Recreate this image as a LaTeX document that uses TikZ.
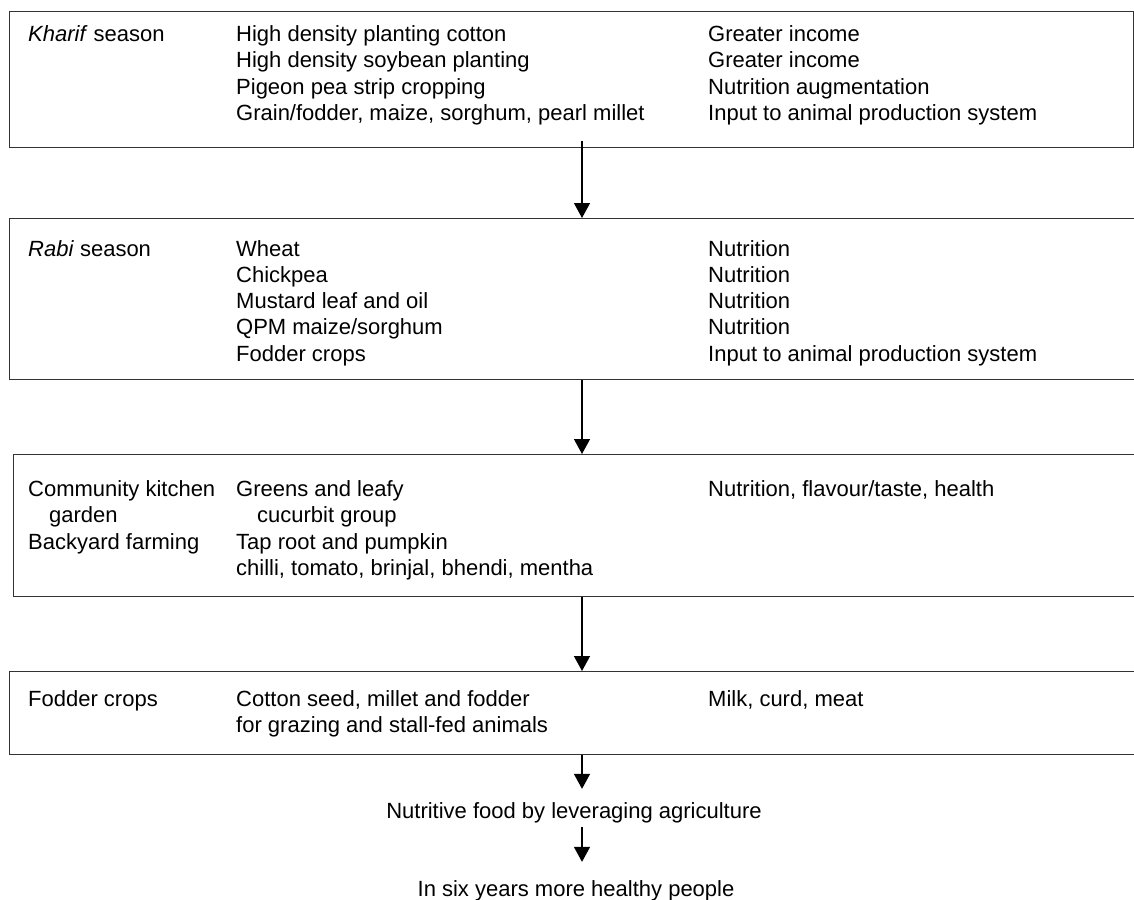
\documentclass[tikz,border=0pt]{standalone}
\usepackage{fontspec}
\setmainfont{Liberation Sans}
\usetikzlibrary{arrows.meta}
\newcommand\colx[1]{\begin{tabular}[t]{@{}l@{}}#1\end{tabular}}
\begin{document}
\begin{tikzpicture}[x=1pt,y=-1pt,
  boxst/.style={draw=black!80, line width=1.3pt, inner sep=0pt, anchor=north west},
  txt/.style={inner sep=0pt, anchor=base west, font=\fontsize{22}{26.3}\selectfont},
  ctxt/.style={inner sep=0pt, anchor=base, font=\fontsize{22}{26.3}\selectfont},
  arr/.style={line width=1.3pt, -{Triangle[width=16pt,length=15pt]}}]
\useasboundingbox (0,0) rectangle (1134,899);
\clip (0,0) rectangle (1134,899);
\coordinate (ax) at (582,0);
% boxes
\node[boxst, minimum width=1124pt, minimum height=136pt] (b1) at (9,11) {};
\node[boxst, minimum width=1140pt, minimum height=161pt] (b2) at (9,218) {};
\node[boxst, minimum width=1140pt, minimum height=142pt] (b3) at (13,454) {};
\node[boxst, minimum width=1140pt, minimum height=83pt] (b4) at (9,671) {};
% box 1
\node[txt] (k1) at (28,41.5) {\colx{\textit{Kharif} season}};
\node[txt] (k2) at (236,41.5) {\colx{High density planting cotton\\High density soybean planting\\Pigeon pea strip cropping\\Grain/fodder, maize, sorghum, pearl millet}};
\node[txt] (k3) at (708,41.5) {\colx{Greater income\\Greater income\\Nutrition augmentation\\Input to animal production system}};
% box 2
\node[txt] (r1) at (28,256) {\colx{\textit{Rabi} season}};
\node[txt] (r2) at (236,256) {\colx{Wheat\\Chickpea\\Mustard leaf and oil\\QPM maize/sorghum\\Fodder crops}};
\node[txt] (r3) at (708,256) {\colx{Nutrition\\Nutrition\\Nutrition\\Nutrition\\Input to animal production system}};
% box 3
\node[txt] (c1) at (28,496.5) {\colx{Community kitchen\\\hspace*{21pt}garden\\Backyard farming}};
\node[txt] (c2) at (236,496.5) {\colx{Greens and leafy\\\hspace*{21pt}cucurbit group\\Tap root and pumpkin\\chilli, tomato, brinjal, bhendi, mentha}};
\node[txt] (c3) at (708,496.5) {\colx{Nutrition, flavour/taste, health}};
% box 4
\node[txt] (f1) at (28,706) {\colx{Fodder crops}};
\node[txt] (f2) at (236,706) {\colx{Cotton seed, millet and fodder\\for grazing and stall-fed animals}};
\node[txt] (f3) at (708,706) {\colx{Milk, curd, meat}};
% bottom texts
\node[ctxt] (t1) at (574,818) {Nutritive food by leveraging agriculture};
\node[ctxt] (t2) at (576,896) {In six years more healthy people};
% arrows
\draw[arr] ([yshift=7pt]b1.south -| ax) -- (b2.north -| ax);
\draw[arr] (b2.south -| ax) -- (b3.north -| ax);
\draw[arr] (b3.south -| ax) -- (b4.north -| ax);
\draw[arr] (b4.south -| ax) -- ([yshift=13pt]t1.north -| ax);
\draw[arr] ([yshift=-4pt]t1.south -| ax) -- ([yshift=18pt]t2.north -| ax);
\end{tikzpicture}
\end{document}
